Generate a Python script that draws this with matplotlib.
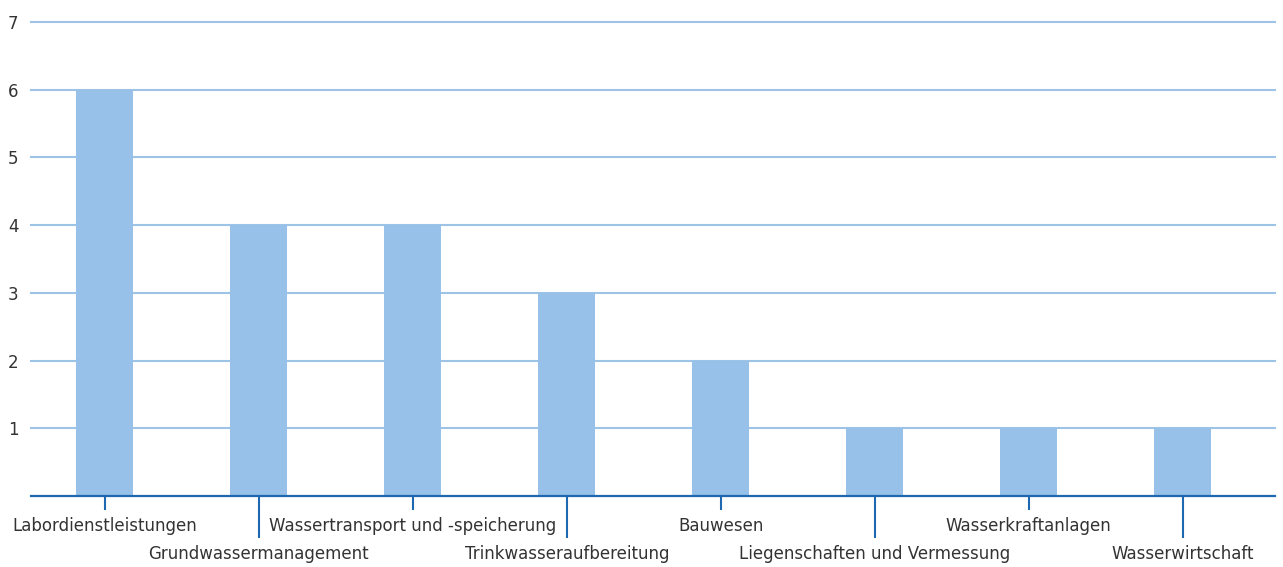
import numpy as np
import matplotlib.pyplot as plt

plt.rcParams["font.family"] = ["Liberation Sans Narrow", "DejaVu Sans"]

# Daten
kategorien = ["Labordienstleistungen", "Grundwassermanagement",
              "Wassertransport und -speicherung", "Trinkwasseraufbereitung",
              "Bauwesen", "Liegenschaften und Vermessung",
              "Wasserkraftanlagen", "Wasserwirtschaft"]
werte = [6, 4, 4, 3, 2, 1, 1, 1]
y_ticks = [1, 2, 3, 4, 5, 6, 7]

bar_farbe = "#97C1E8"
grid_farbe = "#9DC3E6"
achse_farbe = "#1E67B1"
text_farbe = "#333333"

fig = plt.figure(figsize=(12.83, 5.67), dpi=100)
ax = fig.add_axes([0.0242, 0.1252, 0.9696, 0.836])

x = np.arange(len(kategorien))
ax.bar(x, werte, width=0.37, color=bar_farbe, zorder=2)

ax.set_xlim(-0.48, 7.60)
ax.set_ylim(0, 7)

# Gitterlinien
ax.set_yticks(y_ticks)
ax.set_yticklabels([str(v) for v in y_ticks], fontsize=12, color=text_farbe)
ax.tick_params(axis="y", length=0, pad=9)
ax.yaxis.grid(True, color=grid_farbe, linewidth=1.5, zorder=0)
ax.set_axisbelow(True)
for gl in ax.get_ygridlines():
    gl.set_clip_on(False)

for s in ["top", "right", "left"]:
    ax.spines[s].set_visible(False)
ax.spines["bottom"].set_color(achse_farbe)
ax.spines["bottom"].set_linewidth(1.6)
ax.spines["bottom"].set_zorder(3)

# abwechselnd kurze (oben) und lange (unten) Striche
gerade = x[0::2]
ungerade = x[1::2]
ax.set_xticks(gerade)
ax.set_xticklabels(kategorien[0::2], fontsize=12, color=text_farbe)
ax.set_xticks(ungerade, minor=True)
ax.set_xticklabels(kategorien[1::2], minor=True, fontsize=12, color=text_farbe)
ax.tick_params(axis="x", which="major", length=10, width=1.5, color=achse_farbe,
               pad=5, direction="out")
ax.tick_params(axis="x", which="minor", length=30, width=1.5, color=achse_farbe,
               pad=5, direction="out")

fig.savefig("out.png", dpi=100)
